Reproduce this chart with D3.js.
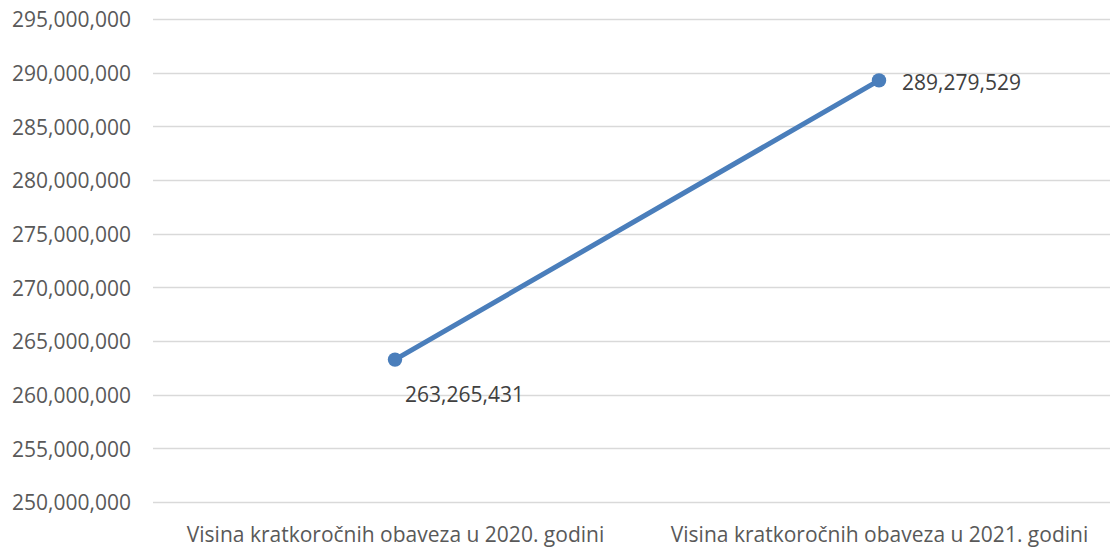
<!DOCTYPE html>
<html>
<head>
<meta charset="utf-8">
<script src="https://cdn.jsdelivr.net/npm/d3@7"></script>
<style>
body { margin: 0; background: #fff; }
svg text { font-family: "Open Sans", "Liberation Sans", sans-serif; }
</style>
</head>
<body>
<div class="main"></div>
<script>
// data
var categories = ["Visina kratkoročnih obaveza u 2020. godini", "Visina kratkoročnih obaveza u 2021. godini"];
var values = [263265431, 289279529];
var yTicks = [250000000, 255000000, 260000000, 265000000, 270000000, 275000000, 280000000, 285000000, 290000000, 295000000];

var width = 1111, height = 548;
var margin = {top: 19, right: 0, bottom: 46, left: 153};
var fontSize = "21px";

var svg = d3.select(".main")
	.append("svg")
	.attr("width", width)
	.attr("height", height);

var xScale = d3.scalePoint()
	.domain(categories)
	.range([margin.left, 1121])
	.padding(0.5);

var yScale = d3.scaleLinear()
	.domain([250000000, 295000000])
	.range([height - margin.bottom, margin.top]);

var fmt = d3.format(",");

// gridlines
svg.append("g")
	.attr("class", "grid")
	.selectAll("line")
	.data(yTicks)
	.enter()
	.append("line")
	.attr("x1", margin.left)
	.attr("x2", 1110)
	.attr("y1", function(d) { return Math.round(yScale(d)) + 0.5; })
	.attr("y2", function(d) { return Math.round(yScale(d)) + 0.5; })
	.style("stroke", "#d9d9d9")
	.style("stroke-width", 1.3);

// y axis labels
var yAxis = d3.axisLeft(yScale)
	.tickValues(yTicks)
	.tickFormat(fmt)
	.tickSize(0)
	.tickPadding(0);
var gy = svg.append("g")
	.attr("class", "y-axis")
	.attr("transform", "translate(131,1)")
	.call(yAxis);
gy.select(".domain").remove();
gy.selectAll("text")
	.style("font-size", fontSize)
	.style("fill", "#595959");

// x axis labels
var xAxis = d3.axisBottom(xScale).tickSize(0).tickPadding(0);
var gx = svg.append("g")
	.attr("class", "x-axis")
	.attr("transform", "translate(0,527)")
	.call(xAxis);
gx.select(".domain").remove();
gx.selectAll("text")
	.style("font-size", fontSize)
	.style("fill", "#595959");

// series line
var line = d3.line()
	.x(function(d, i) { return xScale(categories[i]); })
	.y(function(d) { return yScale(d); });

svg.append("path")
	.datum(values)
	.attr("d", line)
	.style("fill", "none")
	.style("stroke", "#4a7ebb")
	.style("stroke-width", 5)
	.style("stroke-linecap", "round");

svg.append("g")
	.selectAll("circle")
	.data(values)
	.enter()
	.append("circle")
	.attr("cx", function(d, i) { return xScale(categories[i]); })
	.attr("cy", function(d) { return yScale(d); })
	.attr("r", 7.2)
	.style("fill", "#4a7ebb");

// data labels: first below-right, second right
svg.append("g")
	.selectAll("text")
	.data(values)
	.enter()
	.append("text")
	.attr("x", function(d, i) { return xScale(categories[i]) + (i == 0 ? 10 : 23); })
	.attr("y", function(d, i) { return yScale(d) + (i == 0 ? 42 : 9.5); })
	.text(function(d) { return fmt(d); })
	.style("font-size", fontSize)
	.style("fill", "#404040");
</script>
</body>
</html>
